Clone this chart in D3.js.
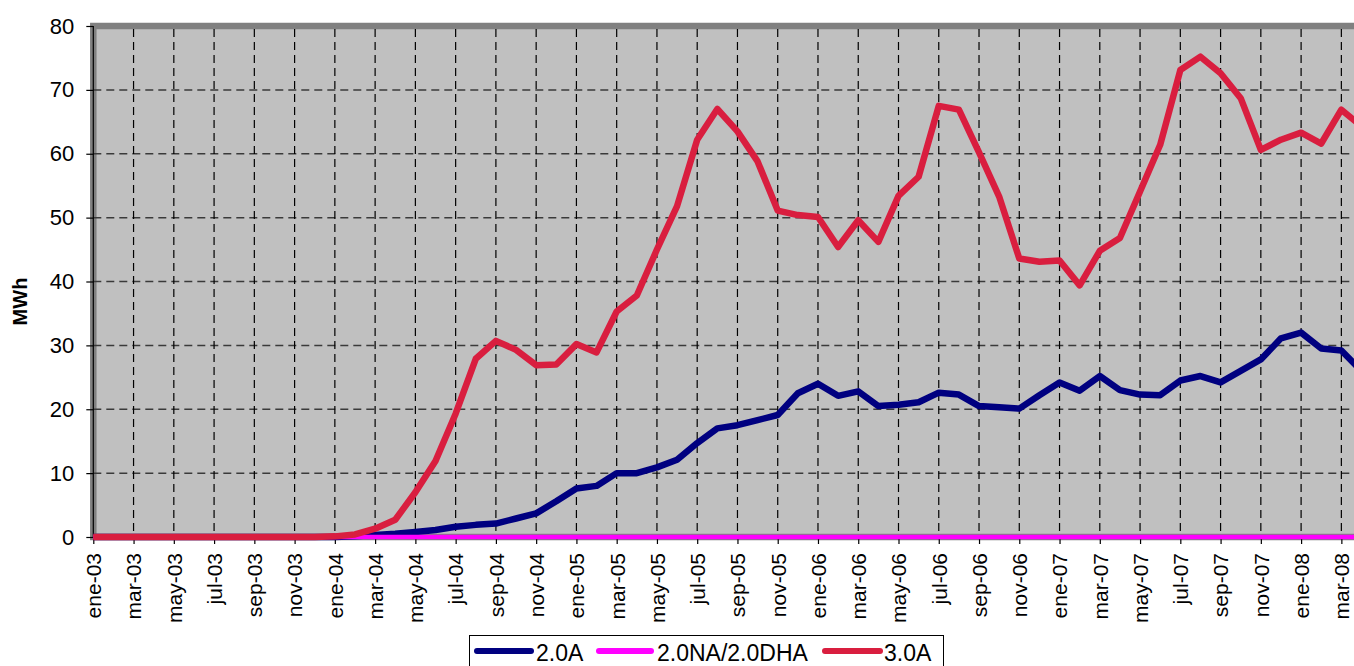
<!DOCTYPE html>
<html>
<head>
<meta charset="utf-8">
<script src="https://cdn.jsdelivr.net/npm/d3@7"></script>
<style>
html,body{margin:0;padding:0;background:#fff;overflow:hidden;}
svg{display:block;font-family:"Liberation Sans",Arial,sans-serif;}
</style>
</head>
<body>
<svg id="chart" width="1354" height="666"></svg>
<script>
const months = [
 "ene-03","feb-03","mar-03","abr-03","may-03","jun-03","jul-03","ago-03","sep-03","oct-03","nov-03","dic-03",
 "ene-04","feb-04","mar-04","abr-04","may-04","jun-04","jul-04","ago-04","sep-04","oct-04","nov-04","dic-04",
 "ene-05","feb-05","mar-05","abr-05","may-05","jun-05","jul-05","ago-05","sep-05","oct-05","nov-05","dic-05",
 "ene-06","feb-06","mar-06","abr-06","may-06","jun-06","jul-06","ago-06","sep-06","oct-06","nov-06","dic-06",
 "ene-07","feb-07","mar-07","abr-07","may-07","jun-07","jul-07","ago-07","sep-07","oct-07","nov-07","dic-07",
 "ene-08","feb-08","mar-08","abr-08"
];
const tickLabels = months.filter((m, i) => i % 2 === 0);
const yTicks = [0,10,20,30,40,50,60,70,80];

const s20A = [
 0,0,0,0,0,0,0,0,0,0,0,0,
 0,0.1,0.3,0.5,0.8,1.1,1.6,1.9,2.1,2.9,3.7,5.6,
 7.6,8.0,10.0,10.0,10.9,12.1,14.7,17.0,17.5,18.3,19.1,22.5,
 24.0,22.1,22.8,20.5,20.7,21.1,22.6,22.3,20.5,20.3,20.1,22.2,
 24.2,22.9,25.2,23.0,22.3,22.2,24.5,25.2,24.2,26.0,27.8,31.1,
 32.0,29.5,29.2,26.0
];
const s20NA = [
 0,0,0,0,0,0,0,0,0,0,0,0,
 0,0,0,0,0,0,0,0,0,0,0,0,
 0,0,0,0,0,0,0,0,0,0,0,0,
 0,0,0,0,0,0,0,0,0,0,0,0,
 0,0,0,0,0,0,0,0,0,0,0,0,
 0,0,0,0
];
const s30A = [
 0,0,0,0,0,0,0,0,0,0,0,0,
 0.1,0.4,1.3,2.7,7.0,11.9,19.3,27.9,30.7,29.3,26.9,27.0,
 30.2,28.9,35.3,37.8,45.0,51.8,62.2,67.0,63.5,58.8,51.1,50.4,
 50.1,45.4,49.6,46.2,53.4,56.4,67.5,66.9,60.2,53.3,43.6,43.1,
 43.3,39.4,44.8,46.8,54.1,61.4,73.1,75.2,72.6,68.7,60.6,62.2,
 63.3,61.6,66.9,64.3
];
const seriesNames = ["2.0A","2.0NA/2.0DHA","3.0A"];
const seriesColors = ["#000080","#FF00FF","#D91E3F"];
const seriesData = [s20A, s20NA, s30A];

const svg = d3.select("#chart");
const pLeft = 93.3, pTop = 26, pBottom = 537;
const step = 20.13;
const x = d3.scalePoint().domain(months).range([pLeft, pLeft + step*(months.length-1)]);
const y = d3.scaleLinear().domain([0,80]).range([pBottom, pTop]);
const plotRight = 1400;

// plot background with gray frame
svg.append("rect")
  .attr("x", pLeft).attr("y", pTop)
  .attr("width", plotRight-pLeft).attr("height", pBottom-pTop)
  .attr("fill", "#C0C0C0")
  .attr("stroke", "#808080").attr("stroke-width", 6.5);

// horizontal gridlines
svg.append("g").selectAll("line").data(yTicks.filter(d => d>0 && d<80)).join("line")
  .attr("x1", pLeft).attr("x2", plotRight)
  .attr("y1", d => y(d)).attr("y2", d => y(d))
  .attr("stroke", "#3a3a3a").attr("stroke-width", 1.5)
  .attr("stroke-dasharray", "8,5");

// vertical gridlines
svg.append("g").selectAll("line").data(tickLabels.slice(1)).join("line")
  .attr("x1", d => x(d)).attr("x2", d => x(d))
  .attr("y1", pTop+3).attr("y2", pBottom)
  .attr("stroke", "#000").attr("stroke-width", 1.2)
  .attr("stroke-dasharray", "8,5");

// axis line
svg.append("line").attr("x1", pLeft).attr("x2", pLeft).attr("y1", pTop).attr("y2", pBottom)
  .attr("stroke", "#000").attr("stroke-width", 1.2);

// y axis
const yAxis = d3.axisLeft(y).tickValues(yTicks).tickSize(7).tickPadding(12);
const yg = svg.append("g").attr("transform", `translate(${pLeft},0)`).call(yAxis);
yg.select(".domain").remove();
yg.selectAll(".tick line").attr("stroke", "#000").attr("stroke-width", 1.2);
yg.selectAll(".tick text").attr("font-size", 22).attr("fill", "#000")
  .attr("font-family", "Liberation Sans, Arial, sans-serif");

// x axis
const xAxis = d3.axisBottom(x).tickValues(tickLabels).tickSize(7).tickPadding(0);
const xg = svg.append("g").attr("transform", `translate(0,${pBottom})`).call(xAxis);
xg.select(".domain").remove();
xg.selectAll(".tick line").attr("stroke", "#000").attr("stroke-width", 1.2);
xg.selectAll(".tick text")
  .attr("font-size", 21).attr("fill", "#000")
  .attr("font-family", "Liberation Sans, Arial, sans-serif")
  .attr("text-anchor", "end")
  .attr("transform", "translate(0,16) rotate(-90)")
  .attr("x", 0).attr("y", 0).attr("dy", "0.35em");

// y label
svg.append("text")
  .attr("transform", `translate(27,${(pTop+pBottom)/2 + 20}) rotate(-90)`)
  .attr("text-anchor", "middle")
  .attr("font-size", 20).attr("font-weight", "bold")
  .text("MWh");

// lines
const line = d3.line().x((d,i) => x(months[i])).y(d => y(d));
seriesData.forEach((arr, k) => {
  svg.append("path").datum(arr)
    .attr("d", line)
    .attr("fill", "none")
    .attr("stroke", seriesColors[k])
    .attr("stroke-width", k === 1 ? 4.5 : 6.5)
    .attr("stroke-linejoin", "round")
    .attr("stroke-linecap", "butt");
});

// legend
const lg = svg.append("g");
lg.append("rect").attr("x", 469.5).attr("y", 635.5).attr("width", 474).attr("height", 40)
  .attr("fill", "#fff").attr("stroke", "#000").attr("stroke-width", 1);
const legItems = [
  {x1: 477, x2: 531, tx: 536},
  {x1: 599, x2: 651, tx: 657},
  {x1: 825, x2: 880, tx: 884}
];
legItems.forEach((it, k) => {
  lg.append("line").attr("x1", it.x1).attr("x2", it.x2).attr("y1", 651).attr("y2", 651)
    .attr("stroke", seriesColors[k]).attr("stroke-width", 6).attr("stroke-linecap", "round");
  lg.append("text").attr("x", it.tx).attr("y", 661)
    .attr("font-size", 23).attr("fill", "#000")
    .text(seriesNames[k]);
});
</script>
</body>
</html>
